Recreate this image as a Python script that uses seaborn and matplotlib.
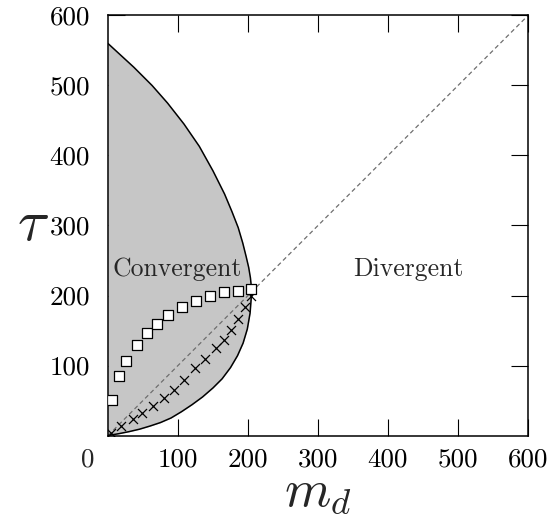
import matplotlib
matplotlib.use("Agg")
import matplotlib.pyplot as plt
import numpy as np
import pandas as pd
import seaborn as sns

# Stability boundary (m_d, tau), ordered by tau from the origin up to the tau axis
boundary_md = [0, 15, 30, 45, 60, 75, 90, 105, 120, 135, 150, 163, 175, 185, 193,
               199, 203, 204.5, 205, 203.5, 201, 197.5, 192.5, 186, 177, 166.5,
               150, 130.5, 108.5, 85, 63, 37, 0]
boundary_tau = [0, 2.5, 5.5, 9, 13.5, 18.5, 25, 34, 44, 55, 68, 81, 97, 114, 132,
                152, 175, 195, 210, 225, 240, 255, 275, 297, 320, 345,
                378, 413, 445, 475, 500, 526, 560]

# Optimal tau for each delay (squares)
square_md = [5, 15.5, 25, 41, 55, 70, 86, 105, 125, 145, 165, 185, 204]
square_tau = [51, 85, 106, 129, 147, 160, 172, 183.5, 192, 200, 204.5, 207, 210]

# Boundary estimates (crosses)
cross_md = [4, 19, 35, 49, 64, 80, 94, 109, 124, 139, 154, 165, 175, 185, 195, 204]
cross_tau = [4, 14, 23, 32, 42, 53, 65, 80, 96, 109, 125, 137, 151, 167, 184, 200]

diag = [0, 600]

x_ticks = [100, 200, 300, 400, 500, 600]
y_ticks = [100, 200, 300, 400, 500, 600]

sns.set_theme(style="ticks")
plt.rcParams["font.family"] = ["cmr10", "DejaVu Serif"]
plt.rcParams["mathtext.fontset"] = "cm"
plt.rcParams["axes.formatter.use_mathtext"] = True

fig = plt.figure(figsize=(5.51, 5.19), dpi=100)
ax = fig.add_axes([108 / 551, 1 - 435.5 / 519, 420 / 551, 420 / 519])

bnd = pd.DataFrame({"md": boundary_md, "tau": boundary_tau})
sq = pd.DataFrame({"md": square_md, "tau": square_tau})
cr = pd.DataFrame({"md": cross_md, "tau": cross_tau})

# Convergent region
ax.fill_betweenx(bnd["tau"], 0, bnd["md"], color="#c6c6c6", lw=0, zorder=1)
sns.lineplot(data=bnd, x="md", y="tau", sort=False, estimator=None,
             color="black", lw=1.1, ax=ax, zorder=3)

# Diagonal m_d = tau
ax.plot(diag, diag, color="#6e6e6e", lw=0.9, ls=(0, (3.5, 2.5)), zorder=2)

sns.scatterplot(data=cr, x="md", y="tau", marker="x", color="black",
                s=42, linewidth=0.9, ax=ax, zorder=4)
sns.scatterplot(data=sq, x="md", y="tau", marker="s", facecolor="white",
                edgecolor="black", s=55, linewidth=0.9, ax=ax, zorder=5)

ax.text(99, 237, "Convergent", ha="center", va="center", fontsize=18.5)
ax.text(429, 237, "Divergent", ha="center", va="center", fontsize=18.5)

ax.set_xlim(0, 600)
ax.set_ylim(0, 600)
ax.set_xticks(x_ticks)
ax.set_yticks(y_ticks)
ax.set_xticklabels([str(v) for v in x_ticks])
ax.set_yticklabels([str(v) for v in y_ticks])
ax.tick_params(direction="in", length=12, width=0.8, top=True, right=True,
               labelsize=19.5, colors="black")
ax.tick_params(axis="x", pad=9)
ax.tick_params(axis="y", pad=13)
for sp in ax.spines.values():
    sp.set_linewidth(1.1)
    sp.set_color("black")

# Origin label shared by both axes
ax.annotate("0", xy=(0, 0), xycoords="data", xytext=(-14.4, -9),
            textcoords="offset points", ha="center", va="top", fontsize=19.5)

ax.set_xlabel(r"$m_d$", fontsize=38)
ax.set_ylabel(r"$\tau$", fontsize=42, rotation=0)
ax.xaxis.set_label_coords(0.5, -0.137)
ax.yaxis.set_label_coords(-0.178, 0.5)
ax.yaxis.label.set_verticalalignment("center")
ax.yaxis.label.set_horizontalalignment("center")
ax.xaxis.label.set_verticalalignment("center")

fig.savefig("out.png", dpi=100)
